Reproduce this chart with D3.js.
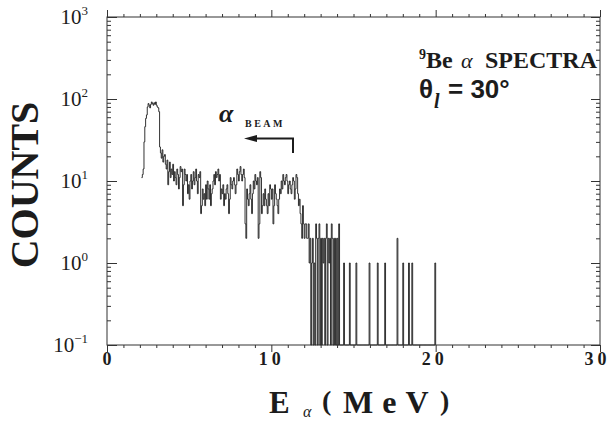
<!DOCTYPE html>
<html><head><meta charset="utf-8">
<script src="https://cdn.jsdelivr.net/npm/d3@7"></script>
<style>body{margin:0;background:#fff} svg{display:block}</style>
</head><body>
<svg id="c" width="610" height="421"></svg>
<script>
// ---- data ----
const binStart = 2.1;      // MeV, left edge of first channel
const binWidth = 0.05;     // MeV per channel
const counts = [
  11,12,14,30,46,58,64,80,88,84,
  78,86,92,88,84,90,86,92,84,80,
  78,70,26,22,19,24,17,20,21,16,
  14,18,9,13,17,11,14,12,16,10,
  13,11,9,14,12,8,11,15,13,14,
  5,9,14,12,10,12,7,9,6,10,
  12,8,10,13,9,11,14,10,7,12,
  11,13,4,5,8,6,7,5,9,6,
  10,8,6,9,5,7,8,10,12,9,
  13,11,12,14,10,12,6,8,7,9,
  5,7,6,8,9,7,4,6,11,9,
  8,10,11,9,7,9,14,12,10,13,
  15,12,10,12,14,11,3,2,8,6,
  5,7,9,6,4,7,10,8,12,10,
  9,11,2,3,13,11,4,5,7,5,
  8,6,5,4,7,5,9,8,6,8,
  3,5,9,7,6,5,4,6,8,7,
  10,8,12,10,9,11,12,10,7,9,
  10,8,7,9,11,10,6,8,12,11,
  7,5,6,4,3,2,5,3,2,3,
  3,2,2,3,1,2,0,1,2,0,
  1,0,3,2,0,2,3,0,2,0,
  2,1,2,0,2,3,0,2,1,2,
  0,3,2,0,2,0,2,0,2,0,
  3,0,0,0,0,0,1,0,0,0,
  0,0,0,1,0,0,0,0,0,0,
  0,1,0,0,0,0,0,0,0,0,
  0,0,0,0,0,0,0,1,0,0,
  0,0,0,0,0,0,0,1,0,0,
  0,0,0,0,0,0,1,0,0,0,
  0,0,0,0,0,0,0,0,0,0,
  0,2,0,0,0,0,0,0,1,0,
  0,0,0,0,0,1,0,0,0,1,
  0,0,0,0,0,0,0,0,0,0,
  0,0,0,0,0,0,0,0,0,0,
  0,0,0,0,0,0,0,1
];
const xMajorTicks = [0, 10, 20, 30];
const xMinorTicks = d3.range(0, 31, 1);
const yTickExponents = [-1, 0, 1, 2, 3];
const xDomain = [0, 30];
const yDomain = [0.1, 1000];

// ---- layout ----
const svg = d3.select('#c');
const L = 107, R = 600, T = 17, B = 345;
const x = d3.scaleLinear().domain(xDomain).range([L, R]);
const y = d3.scaleLog().domain(yDomain).range([B, T]).clamp(true);
const ink = '#1c1c1c';
const serif = "'Liberation Serif','DejaVu Serif',serif";
const sans = "'Liberation Sans',Arial,sans-serif";

// histogram
const pts = [];
counts.forEach((c, i) => {
  const e0 = binStart + i * binWidth;
  const v = c > 0 ? c : yDomain[0];
  pts.push([e0, v], [e0 + binWidth, v]);
});
pts.push([binStart + counts.length * binWidth, yDomain[0]]);
const line = d3.line().x(d => x(d[0])).y(d => y(d[1]));
svg.append('path').attr('d', line(pts)).attr('fill', 'none')
  .attr('stroke', ink).attr('stroke-width', 0.9).attr('stroke-linejoin', 'miter');

// frame
svg.append('rect').attr('x', L).attr('y', T).attr('width', R - L).attr('height', B - T)
  .attr('fill', 'none').attr('stroke', '#333').attr('stroke-width', 1);

function finish(g, isMajor, major, minor, attr) {
  g.select('.domain').remove();
  g.selectAll('.tick text').remove();
  g.selectAll('.tick line').attr(attr, d => isMajor(d) ? major : minor)
    .attr('stroke', '#333');
}
const isMajX = d => xMajorTicks.includes(d);
const isMajY = d => Math.abs(Math.log10(d) - Math.round(Math.log10(d))) < 1e-9;

svg.append('g').attr('transform', `translate(0,${B})`)
  .call(d3.axisBottom(x).tickValues(xMinorTicks))
  .call(g => finish(g, isMajX, 7, 3, 'y2'));
svg.append('g').attr('transform', `translate(0,${T})`)
  .call(d3.axisTop(x).tickValues(xMinorTicks))
  .call(g => finish(g, isMajX, -7, -3, 'y2'));
svg.append('g').attr('transform', `translate(${L},0)`)
  .call(d3.axisRight(y).tickValues(y.ticks()))
  .call(g => finish(g, isMajY, 10, 4, 'x2'));
svg.append('g').attr('transform', `translate(${R},0)`)
  .call(d3.axisLeft(y).tickValues(y.ticks()))
  .call(g => finish(g, isMajY, -9, -4, 'x2'));

// x tick labels
svg.append('g').selectAll('text').data(xMajorTicks).join('text')
  .attr('x', d => x(d) + 2 - d * 0.15).attr('y', 365)
  .attr('text-anchor', 'middle').attr('font-family', serif)
  .attr('font-weight', 'bold').attr('font-size', 18).attr('letter-spacing', 4)
  .attr('fill', ink).text(d => d);

// y tick labels
const yl = svg.append('g').selectAll('text').data(yTickExponents).join('text')
  .attr('x', 88).attr('y', d => y(Math.pow(10, d)) + 7)
  .attr('text-anchor', 'end').attr('font-family', serif).attr('font-size', 21).attr('fill', ink);
yl.append('tspan').text('10');
yl.append('tspan').attr('font-size', 13).attr('dy', -9).text(d => d < 0 ? '\u2212' + (-d) : d);

// axis titles
svg.append('text').attr('transform', 'translate(38,185) rotate(-90)')
  .attr('text-anchor', 'middle').attr('font-family', serif).attr('font-weight', 'bold')
  .attr('font-size', 40).attr('fill', ink).text('COUNTS');

svg.append('text').attr('x', 269).attr('y', 413).attr('font-family', serif)
  .attr('font-weight', 'bold').attr('font-size', 31).attr('fill', ink).text('E');
svg.append('text').attr('x', 303).attr('y', 417).attr('font-family', serif)
  .attr('font-style', 'italic').attr('font-size', 16).attr('fill', ink).text('\u03b1');
svg.append('text').attr('x', 322).attr('y', 410).attr('font-family', serif)
  .attr('font-weight', 'bold').attr('font-size', 28).attr('fill', ink).text('(');
svg.append('text').attr('x', 343).attr('y', 413).attr('font-family', serif)
  .attr('font-weight', 'bold').attr('font-size', 32).attr('letter-spacing', 9).attr('fill', ink).text('MeV');
svg.append('text').attr('x', 440).attr('y', 410).attr('font-family', serif)
  .attr('font-weight', 'bold').attr('font-size', 28).attr('fill', ink).text(')');

// title block
const t1 = svg.append('text').attr('x', 419).attr('y', 68).attr('font-family', serif)
  .attr('font-weight', 'bold').attr('fill', ink);
t1.append('tspan').attr('font-size', 14).attr('dy', -9).text('9');
t1.append('tspan').attr('font-size', 24).attr('dy', 9).text('Be');
svg.append('text').attr('x', 461).attr('y', 68).attr('font-family', serif)
  .attr('font-style', 'italic').attr('font-size', 22).attr('fill', ink).text('\u03b1');
svg.append('text').attr('x', 485).attr('y', 68).attr('font-family', serif)
  .attr('font-weight', 'bold').attr('font-size', 24).attr('fill', ink).text('SPECTRA');

svg.append('text').attr('x', 419).attr('y', 98).attr('font-family', sans)
  .attr('font-weight', 'bold').attr('font-size', 26).attr('fill', ink).text('\u03b8');
svg.append('text').attr('x', 434).attr('y', 108).attr('font-family', serif)
  .attr('font-weight', 'bold').attr('font-style', 'italic').attr('font-size', 20).attr('fill', ink).text('l');
svg.append('text').attr('x', 448).attr('y', 98).attr('font-family', sans)
  .attr('font-weight', 'bold').attr('font-size', 26).attr('fill', ink).text('= 30\u00b0');

// alpha beam annotation
svg.append('text').attr('x', 219).attr('y', 122).attr('font-family', serif)
  .attr('font-style', 'italic').attr('font-weight', 'bold').attr('font-size', 26).attr('fill', ink).text('\u03b1');
svg.append('text').attr('x', 245).attr('y', 127).attr('font-family', serif)
  .attr('font-weight', 'bold').attr('font-size', 10).attr('letter-spacing', 2.5).attr('fill', ink).text('BEAM');
svg.append('path').attr('d', 'M293,153 L293,138.5 L254,138.5').attr('fill', 'none')
  .attr('stroke', ink).attr('stroke-width', 2);
svg.append('path').attr('d', 'M244,138.5 L257,135 L257,142 Z').attr('fill', ink);
</script>
</body></html>
